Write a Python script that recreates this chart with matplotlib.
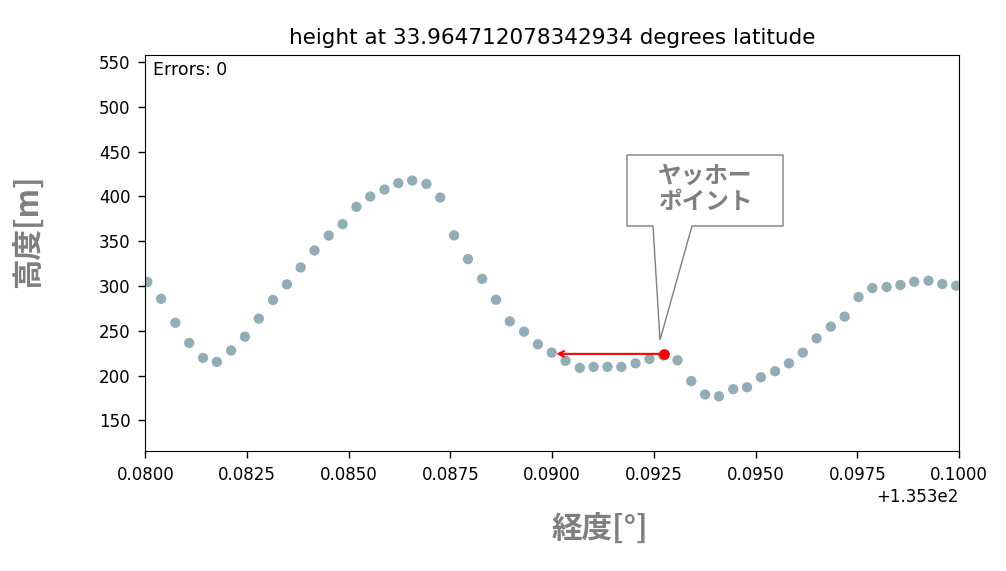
import matplotlib
matplotlib.use("Agg")
from matplotlib import pyplot as plt
from matplotlib.patches import Polygon

# longitude offsets (added to base) and heights
lon_base = 135.3
lon_offsets = [0.08005, 0.08039, 0.08074, 0.08108, 0.08142, 0.08176, 0.08211, 0.08245,
               0.08279, 0.08314, 0.08348, 0.08382, 0.08416, 0.08451, 0.08485, 0.08519,
               0.08553, 0.08588, 0.08622, 0.08656, 0.08691, 0.08725, 0.08759, 0.08793,
               0.08828, 0.08862, 0.08896, 0.08931, 0.08965, 0.08999, 0.09033, 0.09068,
               0.09102, 0.09136, 0.09170, 0.09205, 0.09239, 0.09273, 0.09308, 0.09342,
               0.09376, 0.09410, 0.09445, 0.09479, 0.09513, 0.09548, 0.09582, 0.09616,
               0.09650, 0.09685, 0.09719, 0.09753, 0.09787, 0.09822, 0.09856, 0.09890,
               0.09925, 0.09959, 0.09993]
heights = [304.5, 285.7, 259.0, 236.5, 219.8, 215.4, 228.0, 243.5,
           263.6, 284.4, 301.8, 320.7, 339.6, 356.3, 369.0, 388.3,
           399.8, 407.6, 414.7, 417.6, 413.9, 398.7, 356.5, 330.0,
           308.0, 284.7, 260.6, 249.0, 235.0, 225.7, 216.5, 208.7,
           209.8, 209.8, 209.8, 213.8, 218.7, 222.5, 217.2, 194.0,
           179.0, 177.0, 184.9, 187.1, 198.2, 204.9, 213.8, 225.7,
           241.6, 254.7, 265.8, 287.7, 297.7, 298.9, 301.1, 304.8,
           305.9, 302.2, 300.3]
lons = [lon_base + o for o in lon_offsets]

latitude = 33.964712078342934
errors = 0

# the marked point and where its arrow points to
point_lon = lon_base + 0.09275
point_height = 224.3
arrow_end_lon = lon_base + 0.0901

W, H = 1006, 571
fig = plt.figure(figsize=(W / 100, H / 100), dpi=100)
ax = fig.add_axes([0.1444, 0.2102, 0.8089, 0.694])

ax.scatter(lons, heights, s=55, color="#93adb6", edgecolors="none", zorder=2)
ax.set_xlim(lon_base + 0.08, lon_base + 0.1)
ax.set_ylim(116, 558)
ax.set_yticks([150, 200, 250, 300, 350, 400, 450, 500, 550])
ax.xaxis.get_major_formatter().set_useOffset(lon_base)
ax.tick_params(labelsize=12, length=5, pad=5.5, width=1)
ax.xaxis.get_offset_text().set_fontsize(12)
ax.set_title("height at " + str(latitude) + " degrees latitude", fontsize=15.5, pad=8)
ax.text(0.009, 0.985, "Errors: " + str(errors), transform=ax.transAxes,
        ha="left", va="top", fontsize=12.5)

ax.annotate("", xy=(arrow_end_lon, point_height), xytext=(point_lon, point_height),
            arrowprops=dict(arrowstyle="->", color="red", lw=1.5, shrinkA=0, shrinkB=0),
            zorder=3)
ax.scatter([point_lon], [point_height], s=45, color="red", zorder=4)


def px(x, y):
    return (x / W, 1 - y / H)


gray = "#7f7f7f"
jp = ["Noto Sans CJK JP", "DejaVu Sans"]

# speech-bubble callout
bubble = Polygon([px(627, 155), px(783, 155), px(783, 226), px(692, 226),
                  px(660, 340), px(653, 226), px(627, 226)],
                 closed=True, transform=fig.transFigure, facecolor="white",
                 edgecolor=gray, lw=1.0, zorder=5)
fig.patches.append(bubble)
fig.text(*px(705, 189), "ヤッホー\nポイント", ha="center", va="center",
         family=jp, fontweight="bold", fontsize=17, color=gray,
         linespacing=1.15, zorder=6)

fig.text(*px(29, 231), "高度[m]", rotation=90, ha="center", va="center",
         family=jp, fontweight="bold", fontsize=22, color=gray)
fig.text(*px(600, 530), "経度[°]", ha="center", va="center",
         family=jp, fontweight="bold", fontsize=22, color=gray)

fig.savefig("out.png", dpi=100)
